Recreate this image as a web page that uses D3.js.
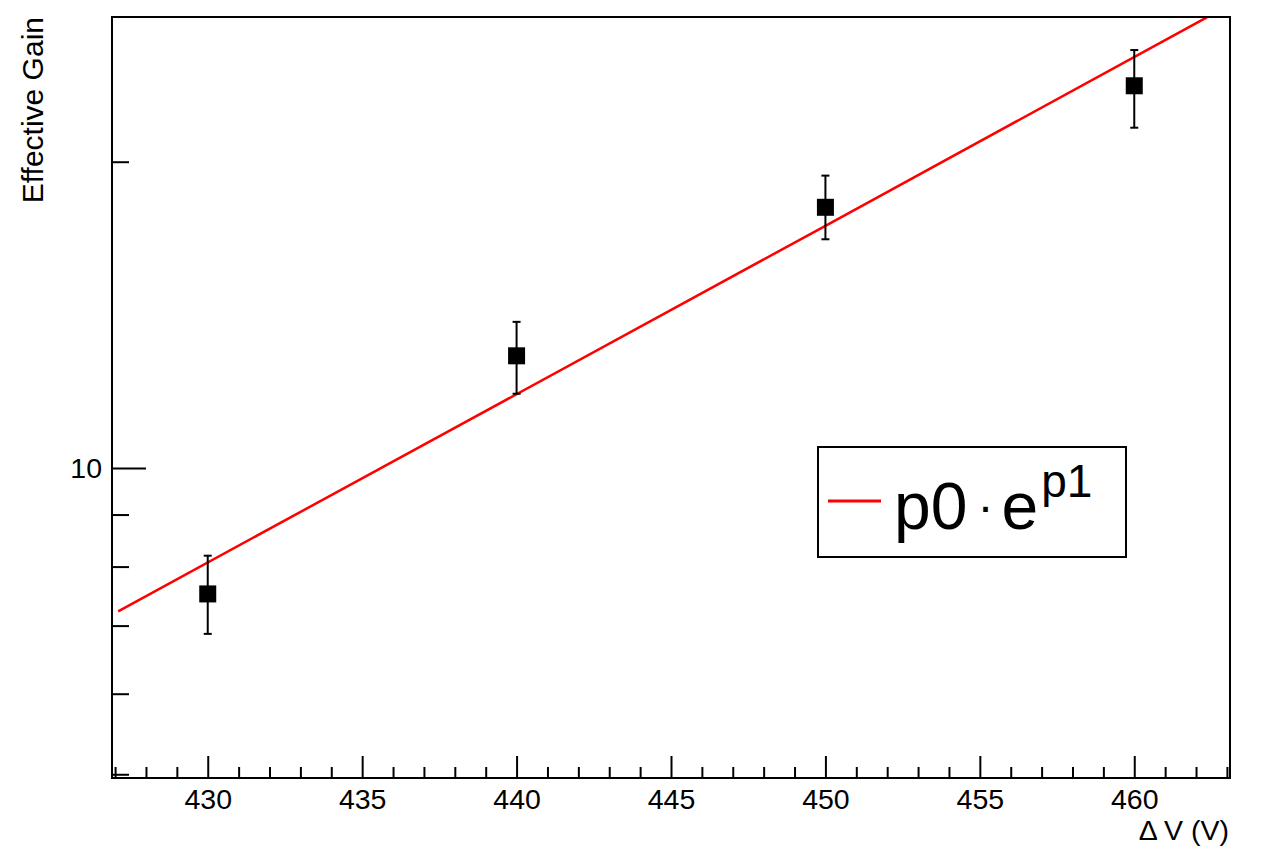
<!DOCTYPE html>
<html>
<head>
<meta charset="utf-8">
<script src="https://cdn.jsdelivr.net/npm/d3@7"></script>
<style>
  body { margin: 0; background: #fff; }
  svg { display: block; font-family: 'Liberation Sans', Arial, Helvetica, sans-serif; }
  .tick line { stroke: #000; stroke-width: 2; }
  .tick text { fill: #000; }
</style>
</head>
<body>
<div id="chart"></div>
<script>
// measured points (voltage, gain, error bar ends)
const voltages = [430, 440, 450, 460];
const gains = [7.52, 12.89, 18.04, 23.75];
const gainsHigh = [8.2, 13.92, 19.38, 25.75];
const gainsLow = [6.87, 11.83, 16.78, 21.6];

// exponential fit
const fitVoltages = [427.1, 450, 462.35];
const fitGains = [7.23, 17.3, 27.73];

const xMajorTicks = [430, 435, 440, 445, 450, 455, 460];
const xMinorTicks = d3.range(427, 464).filter(v => v % 5 !== 0);
const yMajorTicks = [10];
const yMinorTicks = [5, 6, 7, 8, 9, 20];

const W = 1284;
const H = 860;
const margin = { top: 17, right: 54, bottom: 82, left: 112 };
const plotW = W - margin.left - margin.right;
const plotH = H - margin.top - margin.bottom;

const svg = d3.select('#chart')
  .append('svg')
  .attr('width', W)
  .attr('height', H);

svg.append('rect').attr('width', W).attr('height', H).attr('fill', '#fff');

const x = d3.scaleLinear().domain([426.9, 463.1]).range([margin.left, margin.left + plotW]);
const y = d3.scaleLog().domain([4.958, 27.75]).range([margin.top + plotH, margin.top]);

// x axis, ticks pointing up into the frame
svg.append('g')
  .attr('transform', `translate(0,${margin.top + plotH})`)
  .call(d3.axisBottom(x).tickValues(xMajorTicks).tickSizeInner(-22).tickSizeOuter(0).tickPadding(11).tickFormat(d3.format('d')))
  .call(g => g.select('.domain').remove())
  .call(g => g.selectAll('text').attr('font-size', 28.5));

svg.append('g')
  .attr('transform', `translate(0,${margin.top + plotH})`)
  .call(d3.axisBottom(x).tickValues(xMinorTicks).tickSizeInner(-11).tickSizeOuter(0).tickFormat(''))
  .call(g => g.select('.domain').remove());

// y axis (log)
svg.append('g')
  .attr('transform', `translate(${margin.left},0)`)
  .call(d3.axisLeft(y).tickValues(yMajorTicks).tickSizeInner(-34).tickSizeOuter(0).tickPadding(10).tickFormat(d3.format('d')))
  .call(g => g.select('.domain').remove())
  .call(g => g.selectAll('text').attr('font-size', 28.5));

svg.append('g')
  .attr('transform', `translate(${margin.left},0)`)
  .call(d3.axisLeft(y).tickValues(yMinorTicks).tickSizeInner(-17).tickSizeOuter(0).tickFormat(''))
  .call(g => g.select('.domain').remove());

// clip for the fit line
svg.append('clipPath').attr('id', 'frame-clip')
  .append('rect')
  .attr('x', margin.left).attr('y', margin.top)
  .attr('width', plotW).attr('height', plotH);

const fitData = fitVoltages.map((v, i) => ({ v, g: fitGains[i] }));
svg.append('path')
  .datum(fitData)
  .attr('clip-path', 'url(#frame-clip)')
  .attr('fill', 'none')
  .attr('stroke', '#ff0000')
  .attr('stroke-width', 2.5)
  .attr('d', d3.line().x(d => x(d.v)).y(d => y(d.g)));

// error bars and markers
const points = voltages.map((v, i) => ({ v, g: gains[i], hi: gainsHigh[i], lo: gainsLow[i] }));
const pts = svg.append('g');
const bar = pts.selectAll('g').data(points).enter().append('g');
bar.append('line')
  .attr('x1', d => x(d.v)).attr('x2', d => x(d.v))
  .attr('y1', d => y(d.hi)).attr('y2', d => y(d.lo))
  .attr('stroke', '#000').attr('stroke-width', 2);
bar.append('line')
  .attr('x1', d => x(d.v) - 4).attr('x2', d => x(d.v) + 4)
  .attr('y1', d => y(d.hi)).attr('y2', d => y(d.hi))
  .attr('stroke', '#000').attr('stroke-width', 2);
bar.append('line')
  .attr('x1', d => x(d.v) - 4).attr('x2', d => x(d.v) + 4)
  .attr('y1', d => y(d.lo)).attr('y2', d => y(d.lo))
  .attr('stroke', '#000').attr('stroke-width', 2);
bar.append('rect')
  .attr('x', d => x(d.v) - 8.5).attr('y', d => y(d.g) - 8.5)
  .attr('width', 17).attr('height', 17)
  .attr('fill', '#000');

// frame
svg.append('rect')
  .attr('x', margin.left).attr('y', margin.top)
  .attr('width', plotW).attr('height', plotH)
  .attr('fill', 'none').attr('stroke', '#000').attr('stroke-width', 2);

// legend
const legend = svg.append('g');
legend.append('rect')
  .attr('x', 818).attr('y', 447).attr('width', 308).attr('height', 110)
  .attr('fill', '#fff').attr('stroke', '#000').attr('stroke-width', 2);
legend.append('line')
  .attr('x1', 828).attr('x2', 881).attr('y1', 501).attr('y2', 501)
  .attr('stroke', '#ff0000').attr('stroke-width', 3);
const lt = legend.append('text')
  .attr('x', 894).attr('y', 529)
  .attr('font-size', 66)
  .attr('fill', '#000');
lt.append('tspan').text('p0');
lt.append('tspan').attr('dx', 10).attr('font-size', 48).attr('dy', -6).text('\u00B7');
lt.append('tspan').attr('dx', 8).attr('dy', 6).text('e');
lt.append('tspan').attr('font-size', 46).attr('dy', -32).attr('dx', 3).text('p1');

// axis titles
svg.append('text')
  .attr('x', 1229).attr('y', 840)
  .attr('text-anchor', 'end')
  .attr('font-size', 28.5)
  .text('\u0394 V (V)');

svg.append('text')
  .attr('transform', 'translate(43,17) rotate(-90)')
  .attr('text-anchor', 'end')
  .attr('font-size', 30)
  .text('Effective Gain');
</script>
</body>
</html>
